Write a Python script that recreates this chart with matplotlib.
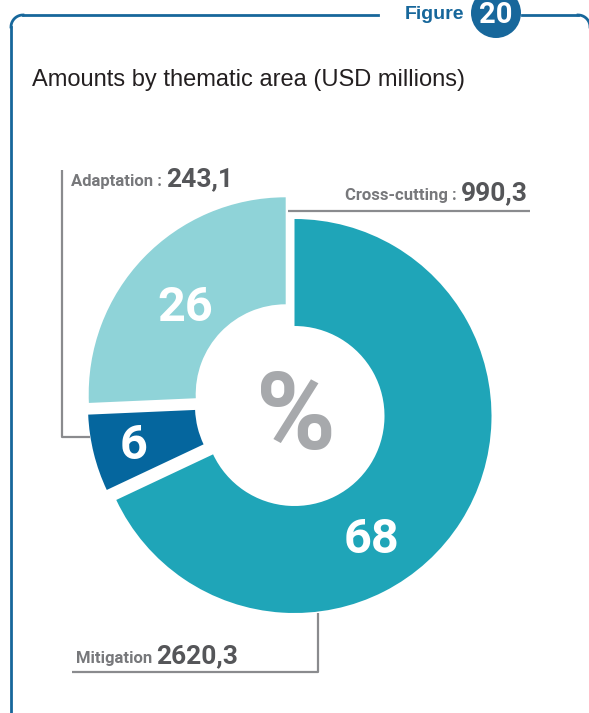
import matplotlib
matplotlib.use('Agg')
import matplotlib.pyplot as plt
from matplotlib.patches import Circle
import numpy as np

# data
areas = ['Mitigation', 'Adaptation', 'Cross-cutting']
amounts = [2620.3, 243.1, 990.3]
amount_labels = ['2620,3', '243,1', '990,3']
fig_number = '20'
title = 'Amounts by thematic area (USD millions)'

# colours
c_mit = '#1fa5b8'
c_ada = '#05669e'
c_cross = '#8fd3d8'
c_frame = '#17679b'
c_line = '#8a8b8e'
c_lab = '#77787b'
c_val = '#555659'

W, H = 589, 713
fig = plt.figure(figsize=(W / 100, H / 100), dpi=100)
ax = fig.add_axes([0, 0, 1, 1])

# pie, in pixel-like coordinates (y axis pointing down)
R = 197
ring = 107
cx, cy = 290, 405
wedges, _ = ax.pie(amounts, colors=[c_mit, c_ada, c_cross], startangle=-90,
                   counterclock=True, radius=R, center=(cx, cy),
                   wedgeprops=dict(width=ring, linewidth=0), frame=True)
# each slice is pulled apart a little
shifts = [(4.5, 11), (-5, 1), (-4.3, -10.7)]
for w, (dx, dy) in zip(wedges, shifts):
    w.set_center((cx + dx, cy + dy))

ax.set_xlim(0, W)
ax.set_ylim(H, 0)
ax.set_aspect('equal')
ax.axis('off')

total = sum(amounts)
pcts = [int(round(a / total * 100)) for a in amounts]
pct_pos = [(371, 540), (134, 446), (185, 308)]
for p, (x, y) in zip(pcts, pct_pos):
    ax.text(x, y, str(p), color='white', fontsize=35, fontweight='bold',
            family='Roboto', ha='center', va='center')

ax.text(296, 420, '%', color='#a7a9ac', fontsize=78, fontweight='bold',
        family='Roboto', ha='center', va='center')

# leader lines
ax.plot([62, 62, 90], [170, 437, 437], color=c_line, lw=1.6, solid_capstyle='butt')
ax.plot([288, 530], [211, 211], color=c_line, lw=1.6, solid_capstyle='butt')
ax.plot([318, 318, 72], [613, 672, 672], color=c_line, lw=1.6, solid_capstyle='butt')

# area labels: name first, amount right after it
lab_pos = {'Adaptation': (71, 186), 'Cross-cutting': (345, 200),
           'Mitigation': (76, 663)}
fig.canvas.draw()
rend = fig.canvas.get_renderer()
for a, v in zip(areas, amount_labels):
    x1, yb = lab_pos[a]
    txt = a if a == 'Mitigation' else a + ' :'
    t1 = ax.text(x1, yb, txt, color=c_lab, fontsize=12, fontweight='bold',
                 family='Roboto', ha='left', va='baseline')
    bb = t1.get_window_extent(renderer=rend)
    ax.annotate(v, xy=(x1, yb), xytext=(bb.width + 4, 0),
                textcoords='offset pixels', color=c_val, fontsize=19,
                fontweight='bold', family='Roboto', ha='left', va='baseline')

# frame around the figure
ax.plot([11, 11], [H + 5, 27], color=c_frame, lw=2)
ax.plot([23, 378], [15, 15], color=c_frame, lw=2)
ax.plot([522, 578], [15, 15], color=c_frame, lw=2)
ax.plot([590, 590], [27, H + 5], color=c_frame, lw=2)
t = np.linspace(0, np.pi / 2, 20)
ax.plot(23 - 12 * np.cos(t), 27 - 12 * np.sin(t), color=c_frame, lw=2)
ax.plot(578 + 12 * np.cos(t), 27 - 12 * np.sin(t), color=c_frame, lw=2)

ax.text(464, 19, 'Figure', color=c_frame, fontsize=14, fontweight='bold',
        family='Liberation Sans', ha='right', va='baseline')
ax.add_patch(Circle((496, 13), 25, color=c_frame, lw=0))
ax.text(496, 15, fig_number, color='white', fontsize=21, fontweight='bold',
        family='Roboto', ha='center', va='center')

ax.text(32, 80, title, color='#231f20', fontsize=17, family='Liberation Sans',
        ha='left', va='center')

fig.savefig('out.png', dpi=100)
